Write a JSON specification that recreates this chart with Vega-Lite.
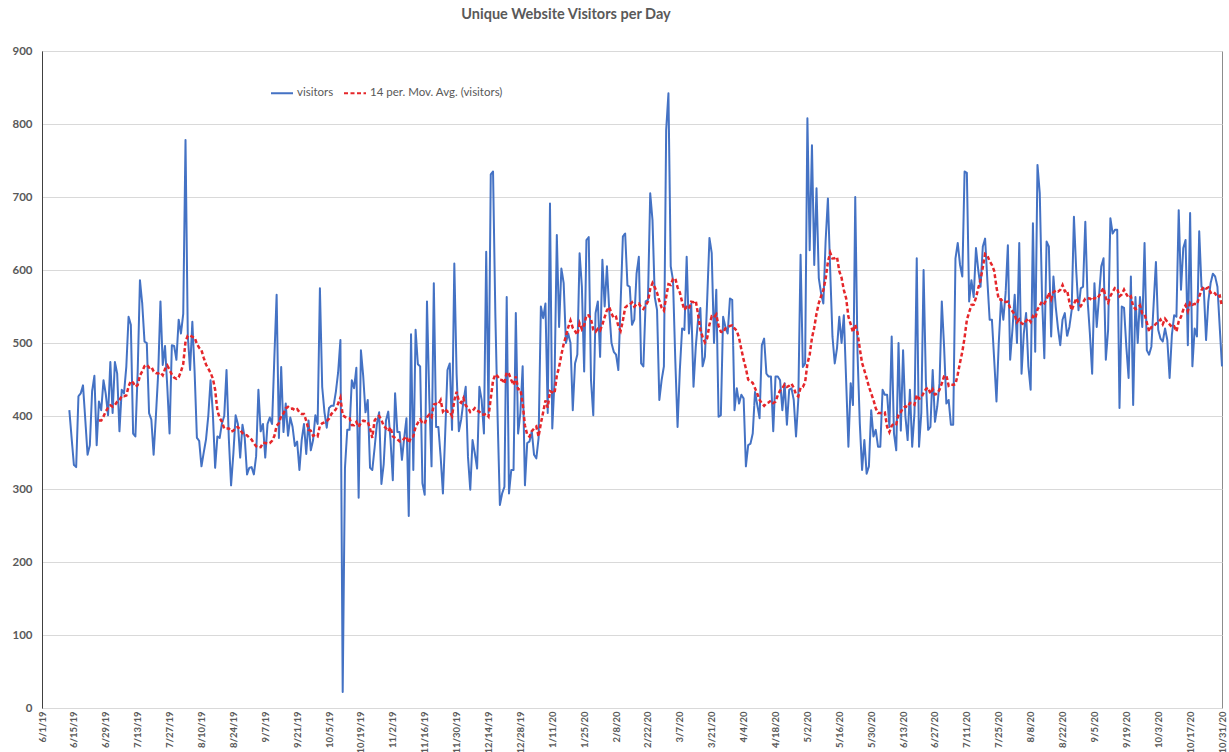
{
"$schema": "https://vega.github.io/schema/vega-lite/v6.json",
"width": 1180,
"height": 657,
"autosize": {"type": "none"},
"padding": {"left": 42, "top": 51, "right": 7, "bottom": 44},
"background": "white",
"config": {"font": "Lato", "view": {"stroke": "#8c8c8c", "strokeWidth": 1}},
"title": {"text": "Unique Website Visitors per Day", "fontSize": 14.5, "fontWeight": "bold", "color": "#595959", "offset": 23, "dx": -66, "font": "Lato"},
"data": {"values": [
{"date":"2019-06-13","visitors":408},{"date":"2019-06-14","visitors":370},{"date":"2019-06-15","visitors":333},{"date":"2019-06-16","visitors":330},{"date":"2019-06-17","visitors":427},{"date":"2019-06-18","visitors":431},{"date":"2019-06-19","visitors":442},{"date":"2019-06-20","visitors":395},{"date":"2019-06-21","visitors":347},{"date":"2019-06-22","visitors":360},{"date":"2019-06-23","visitors":434},{"date":"2019-06-24","visitors":455},{"date":"2019-06-25","visitors":360},{"date":"2019-06-26","visitors":420},{"date":"2019-06-27","visitors":408},{"date":"2019-06-28","visitors":449},{"date":"2019-06-29","visitors":430},{"date":"2019-06-30","visitors":401},
{"date":"2019-07-01","visitors":474},{"date":"2019-07-02","visitors":404},{"date":"2019-07-03","visitors":474},{"date":"2019-07-04","visitors":458},{"date":"2019-07-05","visitors":379},{"date":"2019-07-06","visitors":436},{"date":"2019-07-07","visitors":431},{"date":"2019-07-08","visitors":467},{"date":"2019-07-09","visitors":536},{"date":"2019-07-10","visitors":525},{"date":"2019-07-11","visitors":376},{"date":"2019-07-12","visitors":372},{"date":"2019-07-13","visitors":460},{"date":"2019-07-14","visitors":586},{"date":"2019-07-15","visitors":554},{"date":"2019-07-16","visitors":502},{"date":"2019-07-17","visitors":500},{"date":"2019-07-18","visitors":404},{"date":"2019-07-19","visitors":395},{"date":"2019-07-20","visitors":347},{"date":"2019-07-21","visitors":400},{"date":"2019-07-22","visitors":458},{"date":"2019-07-23","visitors":557},{"date":"2019-07-24","visitors":470},{"date":"2019-07-25","visitors":496},{"date":"2019-07-26","visitors":440},{"date":"2019-07-27","visitors":376},{"date":"2019-07-28","visitors":497},{"date":"2019-07-29","visitors":496},{"date":"2019-07-30","visitors":477},{"date":"2019-07-31","visitors":532},
{"date":"2019-08-01","visitors":513},{"date":"2019-08-02","visitors":540},{"date":"2019-08-03","visitors":778},{"date":"2019-08-04","visitors":510},{"date":"2019-08-05","visitors":463},{"date":"2019-08-06","visitors":529},{"date":"2019-08-07","visitors":460},{"date":"2019-08-08","visitors":370},{"date":"2019-08-09","visitors":366},{"date":"2019-08-10","visitors":331},{"date":"2019-08-11","visitors":350},{"date":"2019-08-12","visitors":368},{"date":"2019-08-13","visitors":400},{"date":"2019-08-14","visitors":449},{"date":"2019-08-15","visitors":404},{"date":"2019-08-16","visitors":329},{"date":"2019-08-17","visitors":372},{"date":"2019-08-18","visitors":370},{"date":"2019-08-19","visitors":390},{"date":"2019-08-20","visitors":400},{"date":"2019-08-21","visitors":463},{"date":"2019-08-22","visitors":370},{"date":"2019-08-23","visitors":305},{"date":"2019-08-24","visitors":348},{"date":"2019-08-25","visitors":401},{"date":"2019-08-26","visitors":389},{"date":"2019-08-27","visitors":343},{"date":"2019-08-28","visitors":388},{"date":"2019-08-29","visitors":370},{"date":"2019-08-30","visitors":320},{"date":"2019-08-31","visitors":329},
{"date":"2019-09-01","visitors":330},{"date":"2019-09-02","visitors":320},{"date":"2019-09-03","visitors":345},{"date":"2019-09-04","visitors":436},{"date":"2019-09-05","visitors":379},{"date":"2019-09-06","visitors":389},{"date":"2019-09-07","visitors":343},{"date":"2019-09-08","visitors":389},{"date":"2019-09-09","visitors":398},{"date":"2019-09-10","visitors":389},{"date":"2019-09-11","visitors":480},{"date":"2019-09-12","visitors":566},{"date":"2019-09-13","visitors":370},{"date":"2019-09-14","visitors":467},{"date":"2019-09-15","visitors":378},{"date":"2019-09-16","visitors":417},{"date":"2019-09-17","visitors":373},{"date":"2019-09-18","visitors":398},{"date":"2019-09-19","visitors":385},{"date":"2019-09-20","visitors":359},{"date":"2019-09-21","visitors":365},{"date":"2019-09-22","visitors":326},{"date":"2019-09-23","visitors":367},{"date":"2019-09-24","visitors":389},{"date":"2019-09-25","visitors":348},{"date":"2019-09-26","visitors":394},{"date":"2019-09-27","visitors":353},{"date":"2019-09-28","visitors":367},{"date":"2019-09-29","visitors":401},{"date":"2019-09-30","visitors":389},
{"date":"2019-10-01","visitors":575},{"date":"2019-10-02","visitors":440},{"date":"2019-10-03","visitors":405},{"date":"2019-10-04","visitors":384},{"date":"2019-10-05","visitors":411},{"date":"2019-10-06","visitors":414},{"date":"2019-10-07","visitors":414},{"date":"2019-10-08","visitors":433},{"date":"2019-10-09","visitors":460},{"date":"2019-10-10","visitors":504},{"date":"2019-10-11","visitors":22},{"date":"2019-10-12","visitors":329},{"date":"2019-10-13","visitors":381},{"date":"2019-10-14","visitors":381},{"date":"2019-10-15","visitors":449},{"date":"2019-10-16","visitors":438},{"date":"2019-10-17","visitors":466},{"date":"2019-10-18","visitors":288},{"date":"2019-10-19","visitors":490},{"date":"2019-10-20","visitors":455},{"date":"2019-10-21","visitors":405},{"date":"2019-10-22","visitors":422},{"date":"2019-10-23","visitors":329},{"date":"2019-10-24","visitors":326},{"date":"2019-10-25","visitors":356},{"date":"2019-10-26","visitors":389},{"date":"2019-10-27","visitors":405},{"date":"2019-10-28","visitors":307},{"date":"2019-10-29","visitors":334},{"date":"2019-10-30","visitors":394},{"date":"2019-10-31","visitors":406},
{"date":"2019-11-01","visitors":367},{"date":"2019-11-02","visitors":312},{"date":"2019-11-03","visitors":431},{"date":"2019-11-04","visitors":378},{"date":"2019-11-05","visitors":378},{"date":"2019-11-06","visitors":340},{"date":"2019-11-07","visitors":370},{"date":"2019-11-08","visitors":397},{"date":"2019-11-09","visitors":263},{"date":"2019-11-10","visitors":512},{"date":"2019-11-11","visitors":326},{"date":"2019-11-12","visitors":518},{"date":"2019-11-13","visitors":471},{"date":"2019-11-14","visitors":468},{"date":"2019-11-15","visitors":308},{"date":"2019-11-16","visitors":292},{"date":"2019-11-17","visitors":557},{"date":"2019-11-18","visitors":426},{"date":"2019-11-19","visitors":331},{"date":"2019-11-20","visitors":582},{"date":"2019-11-21","visitors":385},{"date":"2019-11-22","visitors":385},{"date":"2019-11-23","visitors":344},{"date":"2019-11-24","visitors":294},{"date":"2019-11-25","visitors":376},{"date":"2019-11-26","visitors":463},{"date":"2019-11-27","visitors":472},{"date":"2019-11-28","visitors":381},{"date":"2019-11-29","visitors":609},{"date":"2019-11-30","visitors":458},
{"date":"2019-12-01","visitors":379},{"date":"2019-12-02","visitors":395},{"date":"2019-12-03","visitors":420},{"date":"2019-12-04","visitors":440},{"date":"2019-12-05","visitors":344},{"date":"2019-12-06","visitors":299},{"date":"2019-12-07","visitors":367},{"date":"2019-12-08","visitors":349},{"date":"2019-12-09","visitors":328},{"date":"2019-12-10","visitors":440},{"date":"2019-12-11","visitors":422},{"date":"2019-12-12","visitors":376},{"date":"2019-12-13","visitors":625},{"date":"2019-12-14","visitors":404},{"date":"2019-12-15","visitors":731},{"date":"2019-12-16","visitors":735},{"date":"2019-12-17","visitors":541},{"date":"2019-12-18","visitors":399},{"date":"2019-12-19","visitors":278},{"date":"2019-12-20","visitors":294},{"date":"2019-12-21","visitors":303},{"date":"2019-12-22","visitors":563},{"date":"2019-12-23","visitors":294},{"date":"2019-12-24","visitors":326},{"date":"2019-12-25","visitors":326},{"date":"2019-12-26","visitors":541},{"date":"2019-12-27","visitors":376},{"date":"2019-12-28","visitors":404},{"date":"2019-12-29","visitors":468},{"date":"2019-12-30","visitors":305},{"date":"2019-12-31","visitors":363},
{"date":"2020-01-01","visitors":365},{"date":"2020-01-02","visitors":379},{"date":"2020-01-03","visitors":347},{"date":"2020-01-04","visitors":342},{"date":"2020-01-05","visitors":370},{"date":"2020-01-06","visitors":550},{"date":"2020-01-07","visitors":534},{"date":"2020-01-08","visitors":554},{"date":"2020-01-09","visitors":404},{"date":"2020-01-10","visitors":691},{"date":"2020-01-11","visitors":383},{"date":"2020-01-12","visitors":449},{"date":"2020-01-13","visitors":648},{"date":"2020-01-14","visitors":522},{"date":"2020-01-15","visitors":602},{"date":"2020-01-16","visitors":582},{"date":"2020-01-17","visitors":500},{"date":"2020-01-18","visitors":513},{"date":"2020-01-19","visitors":500},{"date":"2020-01-20","visitors":408},{"date":"2020-01-21","visitors":472},{"date":"2020-01-22","visitors":484},{"date":"2020-01-23","visitors":623},{"date":"2020-01-24","visitors":577},{"date":"2020-01-25","visitors":461},{"date":"2020-01-26","visitors":641},{"date":"2020-01-27","visitors":645},{"date":"2020-01-28","visitors":449},{"date":"2020-01-29","visitors":401},{"date":"2020-01-30","visitors":541},{"date":"2020-01-31","visitors":557},
{"date":"2020-02-01","visitors":481},{"date":"2020-02-02","visitors":614},{"date":"2020-02-03","visitors":550},{"date":"2020-02-04","visitors":605},{"date":"2020-02-05","visitors":545},{"date":"2020-02-06","visitors":500},{"date":"2020-02-07","visitors":488},{"date":"2020-02-08","visitors":484},{"date":"2020-02-09","visitors":463},{"date":"2020-02-10","visitors":554},{"date":"2020-02-11","visitors":646},{"date":"2020-02-12","visitors":650},{"date":"2020-02-13","visitors":579},{"date":"2020-02-14","visitors":577},{"date":"2020-02-15","visitors":525},{"date":"2020-02-16","visitors":532},{"date":"2020-02-17","visitors":595},{"date":"2020-02-18","visitors":618},{"date":"2020-02-19","visitors":472},{"date":"2020-02-20","visitors":468},{"date":"2020-02-21","visitors":557},{"date":"2020-02-22","visitors":559},{"date":"2020-02-23","visitors":705},{"date":"2020-02-24","visitors":668},{"date":"2020-02-25","visitors":563},{"date":"2020-02-26","visitors":545},{"date":"2020-02-27","visitors":422},{"date":"2020-02-28","visitors":449},{"date":"2020-02-29","visitors":468},
{"date":"2020-03-01","visitors":792},{"date":"2020-03-02","visitors":842},{"date":"2020-03-03","visitors":605},{"date":"2020-03-04","visitors":586},{"date":"2020-03-05","visitors":477},{"date":"2020-03-06","visitors":385},{"date":"2020-03-07","visitors":463},{"date":"2020-03-08","visitors":520},{"date":"2020-03-09","visitors":518},{"date":"2020-03-10","visitors":618},{"date":"2020-03-11","visitors":513},{"date":"2020-03-12","visitors":554},{"date":"2020-03-13","visitors":440},{"date":"2020-03-14","visitors":495},{"date":"2020-03-15","visitors":532},{"date":"2020-03-16","visitors":548},{"date":"2020-03-17","visitors":468},{"date":"2020-03-18","visitors":481},{"date":"2020-03-19","visitors":559},{"date":"2020-03-20","visitors":644},{"date":"2020-03-21","visitors":623},{"date":"2020-03-22","visitors":500},{"date":"2020-03-23","visitors":573},{"date":"2020-03-24","visitors":399},{"date":"2020-03-25","visitors":401},{"date":"2020-03-26","visitors":536},{"date":"2020-03-27","visitors":522},{"date":"2020-03-28","visitors":513},{"date":"2020-03-29","visitors":561},{"date":"2020-03-30","visitors":559},{"date":"2020-03-31","visitors":408},
{"date":"2020-04-01","visitors":438},{"date":"2020-04-02","visitors":417},{"date":"2020-04-03","visitors":429},{"date":"2020-04-04","visitors":424},{"date":"2020-04-05","visitors":331},{"date":"2020-04-06","visitors":360},{"date":"2020-04-07","visitors":362},{"date":"2020-04-08","visitors":376},{"date":"2020-04-09","visitors":433},{"date":"2020-04-10","visitors":415},{"date":"2020-04-11","visitors":397},{"date":"2020-04-12","visitors":497},{"date":"2020-04-13","visitors":506},{"date":"2020-04-14","visitors":458},{"date":"2020-04-15","visitors":454},{"date":"2020-04-16","visitors":454},{"date":"2020-04-17","visitors":379},{"date":"2020-04-18","visitors":454},{"date":"2020-04-19","visitors":454},{"date":"2020-04-20","visitors":449},{"date":"2020-04-21","visitors":408},{"date":"2020-04-22","visitors":445},{"date":"2020-04-23","visitors":388},{"date":"2020-04-24","visitors":436},{"date":"2020-04-25","visitors":438},{"date":"2020-04-26","visitors":422},{"date":"2020-04-27","visitors":372},{"date":"2020-04-28","visitors":422},{"date":"2020-04-29","visitors":621},{"date":"2020-04-30","visitors":467},
{"date":"2020-05-01","visitors":472},{"date":"2020-05-02","visitors":808},{"date":"2020-05-03","visitors":627},{"date":"2020-05-04","visitors":771},{"date":"2020-05-05","visitors":607},{"date":"2020-05-06","visitors":712},{"date":"2020-05-07","visitors":589},{"date":"2020-05-08","visitors":568},{"date":"2020-05-09","visitors":554},{"date":"2020-05-10","visitors":640},{"date":"2020-05-11","visitors":698},{"date":"2020-05-12","visitors":600},{"date":"2020-05-13","visitors":509},{"date":"2020-05-14","visitors":472},{"date":"2020-05-15","visitors":493},{"date":"2020-05-16","visitors":536},{"date":"2020-05-17","visitors":500},{"date":"2020-05-18","visitors":538},{"date":"2020-05-19","visitors":449},{"date":"2020-05-20","visitors":358},{"date":"2020-05-21","visitors":445},{"date":"2020-05-22","visitors":415},{"date":"2020-05-23","visitors":700},{"date":"2020-05-24","visitors":486},{"date":"2020-05-25","visitors":390},{"date":"2020-05-26","visitors":326},{"date":"2020-05-27","visitors":367},{"date":"2020-05-28","visitors":321},{"date":"2020-05-29","visitors":331},{"date":"2020-05-30","visitors":408},{"date":"2020-05-31","visitors":372},
{"date":"2020-06-01","visitors":381},{"date":"2020-06-02","visitors":358},{"date":"2020-06-03","visitors":358},{"date":"2020-06-04","visitors":436},{"date":"2020-06-05","visitors":429},{"date":"2020-06-06","visitors":429},{"date":"2020-06-07","visitors":385},{"date":"2020-06-08","visitors":509},{"date":"2020-06-09","visitors":376},{"date":"2020-06-10","visitors":353},{"date":"2020-06-11","visitors":500},{"date":"2020-06-12","visitors":380},{"date":"2020-06-13","visitors":490},{"date":"2020-06-14","visitors":400},{"date":"2020-06-15","visitors":367},{"date":"2020-06-16","visitors":436},{"date":"2020-06-17","visitors":358},{"date":"2020-06-18","visitors":404},{"date":"2020-06-19","visitors":616},{"date":"2020-06-20","visitors":358},{"date":"2020-06-21","visitors":404},{"date":"2020-06-22","visitors":600},{"date":"2020-06-23","visitors":449},{"date":"2020-06-24","visitors":381},{"date":"2020-06-25","visitors":385},{"date":"2020-06-26","visitors":463},{"date":"2020-06-27","visitors":392},{"date":"2020-06-28","visitors":413},{"date":"2020-06-29","visitors":445},{"date":"2020-06-30","visitors":557},
{"date":"2020-07-01","visitors":495},{"date":"2020-07-02","visitors":417},{"date":"2020-07-03","visitors":422},{"date":"2020-07-04","visitors":388},{"date":"2020-07-05","visitors":388},{"date":"2020-07-06","visitors":616},{"date":"2020-07-07","visitors":637},{"date":"2020-07-08","visitors":607},{"date":"2020-07-09","visitors":591},{"date":"2020-07-10","visitors":735},{"date":"2020-07-11","visitors":733},{"date":"2020-07-12","visitors":557},{"date":"2020-07-13","visitors":586},{"date":"2020-07-14","visitors":563},{"date":"2020-07-15","visitors":630},{"date":"2020-07-16","visitors":600},{"date":"2020-07-17","visitors":577},{"date":"2020-07-18","visitors":632},{"date":"2020-07-19","visitors":643},{"date":"2020-07-20","visitors":586},{"date":"2020-07-21","visitors":532},{"date":"2020-07-22","visitors":532},{"date":"2020-07-23","visitors":477},{"date":"2020-07-24","visitors":420},{"date":"2020-07-25","visitors":500},{"date":"2020-07-26","visitors":559},{"date":"2020-07-27","visitors":532},{"date":"2020-07-28","visitors":568},{"date":"2020-07-29","visitors":634},{"date":"2020-07-30","visitors":477},{"date":"2020-07-31","visitors":518},
{"date":"2020-08-01","visitors":566},{"date":"2020-08-02","visitors":500},{"date":"2020-08-03","visitors":637},{"date":"2020-08-04","visitors":458},{"date":"2020-08-05","visitors":513},{"date":"2020-08-06","visitors":541},{"date":"2020-08-07","visitors":468},{"date":"2020-08-08","visitors":436},{"date":"2020-08-09","visitors":664},{"date":"2020-08-10","visitors":488},{"date":"2020-08-11","visitors":744},{"date":"2020-08-12","visitors":705},{"date":"2020-08-13","visitors":563},{"date":"2020-08-14","visitors":479},{"date":"2020-08-15","visitors":639},{"date":"2020-08-16","visitors":632},{"date":"2020-08-17","visitors":509},{"date":"2020-08-18","visitors":591},{"date":"2020-08-19","visitors":550},{"date":"2020-08-20","visitors":520},{"date":"2020-08-21","visitors":497},{"date":"2020-08-22","visitors":532},{"date":"2020-08-23","visitors":541},{"date":"2020-08-24","visitors":509},{"date":"2020-08-25","visitors":522},{"date":"2020-08-26","visitors":545},{"date":"2020-08-27","visitors":673},{"date":"2020-08-28","visitors":600},{"date":"2020-08-29","visitors":545},{"date":"2020-08-30","visitors":575},{"date":"2020-08-31","visitors":577},
{"date":"2020-09-01","visitors":666},{"date":"2020-09-02","visitors":559},{"date":"2020-09-03","visitors":513},{"date":"2020-09-04","visitors":458},{"date":"2020-09-05","visitors":582},{"date":"2020-09-06","visitors":522},{"date":"2020-09-07","visitors":563},{"date":"2020-09-08","visitors":605},{"date":"2020-09-09","visitors":616},{"date":"2020-09-10","visitors":477},{"date":"2020-09-11","visitors":518},{"date":"2020-09-12","visitors":671},{"date":"2020-09-13","visitors":650},{"date":"2020-09-14","visitors":655},{"date":"2020-09-15","visitors":655},{"date":"2020-09-16","visitors":411},{"date":"2020-09-17","visitors":550},{"date":"2020-09-18","visitors":548},{"date":"2020-09-19","visitors":495},{"date":"2020-09-20","visitors":452},{"date":"2020-09-21","visitors":591},{"date":"2020-09-22","visitors":415},{"date":"2020-09-23","visitors":563},{"date":"2020-09-24","visitors":500},{"date":"2020-09-25","visitors":563},{"date":"2020-09-26","visitors":522},{"date":"2020-09-27","visitors":637},{"date":"2020-09-28","visitors":490},{"date":"2020-09-29","visitors":484},{"date":"2020-09-30","visitors":495},
{"date":"2020-10-01","visitors":554},{"date":"2020-10-02","visitors":611},{"date":"2020-10-03","visitors":518},{"date":"2020-10-04","visitors":506},{"date":"2020-10-05","visitors":502},{"date":"2020-10-06","visitors":520},{"date":"2020-10-07","visitors":504},{"date":"2020-10-08","visitors":452},{"date":"2020-10-09","visitors":511},{"date":"2020-10-10","visitors":538},{"date":"2020-10-11","visitors":536},{"date":"2020-10-12","visitors":682},{"date":"2020-10-13","visitors":573},{"date":"2020-10-14","visitors":630},{"date":"2020-10-15","visitors":641},{"date":"2020-10-16","visitors":497},{"date":"2020-10-17","visitors":678},{"date":"2020-10-18","visitors":468},{"date":"2020-10-19","visitors":520},{"date":"2020-10-20","visitors":509},{"date":"2020-10-21","visitors":653},{"date":"2020-10-22","visitors":577},{"date":"2020-10-23","visitors":575},{"date":"2020-10-24","visitors":504},{"date":"2020-10-25","visitors":557},{"date":"2020-10-26","visitors":582},{"date":"2020-10-27","visitors":595},{"date":"2020-10-28","visitors":591},{"date":"2020-10-29","visitors":577},{"date":"2020-10-30","visitors":522},{"date":"2020-10-31","visitors":468}
]},
"transform": [
{"window": [{"op": "mean", "field": "visitors", "as": "ma"}, {"op": "count", "as": "n"}], "frame": [-13, 0], "sort": [{"field": "date"}]}
],
"encoding": {
"x": {"field": "date", "type": "temporal", "title": null,
"scale": {"type": "utc", "domain": [{"year": 2019, "month": 6, "date": 1, "utc": true}, {"year": 2020, "month": 10, "date": 31, "utc": true}]},
"axis": {"format": "%-m/%-d/%y", "labelAngle": 270, "labelFontSize": 9.5, "labelFontWeight": "bold", "labelColor": "#595959", "labelPadding": 3, "ticks": false, "domain": false, "grid": false, "labelOverlap": false, "labelBound": false, "labelFlush": false,
"values": [
{"year":2019,"month":6,"date":1,"utc":true},{"year":2019,"month":6,"date":15,"utc":true},{"year":2019,"month":6,"date":29,"utc":true},{"year":2019,"month":7,"date":13,"utc":true},{"year":2019,"month":7,"date":27,"utc":true},{"year":2019,"month":8,"date":10,"utc":true},{"year":2019,"month":8,"date":24,"utc":true},{"year":2019,"month":9,"date":7,"utc":true},{"year":2019,"month":9,"date":21,"utc":true},{"year":2019,"month":10,"date":5,"utc":true},{"year":2019,"month":10,"date":19,"utc":true},{"year":2019,"month":11,"date":2,"utc":true},{"year":2019,"month":11,"date":16,"utc":true},{"year":2019,"month":11,"date":30,"utc":true},{"year":2019,"month":12,"date":14,"utc":true},{"year":2019,"month":12,"date":28,"utc":true},
{"year":2020,"month":1,"date":11,"utc":true},{"year":2020,"month":1,"date":25,"utc":true},{"year":2020,"month":2,"date":8,"utc":true},{"year":2020,"month":2,"date":22,"utc":true},{"year":2020,"month":3,"date":7,"utc":true},{"year":2020,"month":3,"date":21,"utc":true},{"year":2020,"month":4,"date":4,"utc":true},{"year":2020,"month":4,"date":18,"utc":true},{"year":2020,"month":5,"date":2,"utc":true},{"year":2020,"month":5,"date":16,"utc":true},{"year":2020,"month":5,"date":30,"utc":true},{"year":2020,"month":6,"date":13,"utc":true},{"year":2020,"month":6,"date":27,"utc":true},{"year":2020,"month":7,"date":11,"utc":true},{"year":2020,"month":7,"date":25,"utc":true},{"year":2020,"month":8,"date":8,"utc":true},{"year":2020,"month":8,"date":22,"utc":true},{"year":2020,"month":9,"date":5,"utc":true},{"year":2020,"month":9,"date":19,"utc":true},{"year":2020,"month":10,"date":3,"utc":true},{"year":2020,"month":10,"date":17,"utc":true},{"year":2020,"month":10,"date":31,"utc":true}
]}}
},
"layer": [
{"mark": {"type": "line", "strokeWidth": 2, "strokeJoin": "round"},
"encoding": {
"y": {"field": "visitors", "type": "quantitative", "title": null, "scale": {"domain": [0, 900], "nice": false},
"axis": {"values": [0,100,200,300,400,500,600,700,800,900], "labelFontSize": 11.5, "labelFontWeight": "bold", "labelColor": "#595959", "labelPadding": 10, "ticks": false, "domainColor": "#404040", "gridColor": "#D9D9D9", "grid": true}},
"color": {"datum": "visitors", "type": "nominal", "scale": {"domain": ["visitors", "14 per. Mov. Avg. (visitors)"], "range": ["#4472C4", "#E5262A"]},
"legend": {"orient": "none", "legendX": 228, "legendY": 30, "direction": "horizontal", "title": null, "symbolType": "stroke", "symbolStrokeWidth": 2, "symbolSize": 484, "labelFontSize": 11.5, "labelColor": "#595959", "columnPadding": 6, "labelOffset": 3}},
"strokeDash": {"datum": "visitors", "type": "nominal", "scale": {"domain": ["visitors", "14 per. Mov. Avg. (visitors)"], "range": [[1, 0], [4, 2.5]]},
"legend": {"orient": "none", "legendX": 228, "legendY": 30, "direction": "horizontal", "title": null, "symbolType": "stroke", "symbolStrokeWidth": 2, "symbolSize": 484, "labelFontSize": 11.5, "labelColor": "#595959", "columnPadding": 6, "labelOffset": 3}}
}},
{"transform": [{"filter": "datum.n >= 14"}],
"mark": {"type": "line", "strokeWidth": 2.5},
"encoding": {
"y": {"field": "ma", "type": "quantitative"},
"color": {"datum": "14 per. Mov. Avg. (visitors)", "type": "nominal"},
"strokeDash": {"datum": "14 per. Mov. Avg. (visitors)", "type": "nominal"}
}}
]
}
